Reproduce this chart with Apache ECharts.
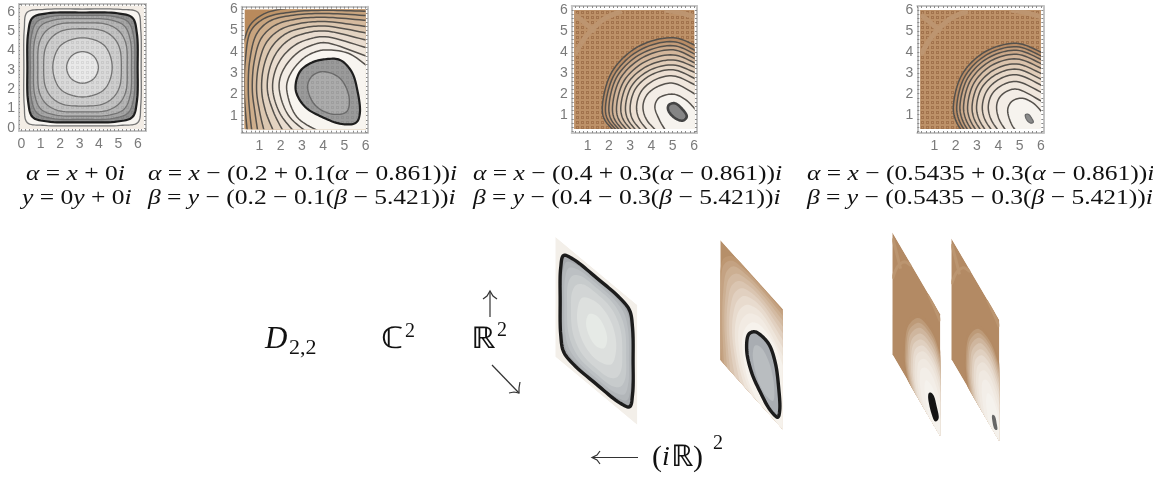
<!DOCTYPE html>
<html><head><meta charset="utf-8"><style>html,body{margin:0;padding:0;background:#fff}#c{width:1153px;height:479px}</style>
<script src="https://cdn.jsdelivr.net/npm/echarts@6/dist/echarts.min.js"></script></head><body><div id="c"></div>
<script>
// ---------- tick labels ----------
const ticksFrom0 = [0,1,2,3,4,5,6];
const ticksFrom1 = [1,2,3,4,5,6];
const minorTicks = [0,0.2,0.4,0.6,0.8,1,1.2,1.4,1.6,1.8,2,2.2,2.4,2.6,2.8,3,3.2,3.4,3.6,3.8,4,4.2,4.4,4.6,4.8,5,5.2,5.4,5.6,5.8,6,6.2,6.4];

// ---------- panel 1: alpha = x + 0i ----------
const p1Outer = [[6.17,3.13],[6.15,5.09],[6.0,5.98],[5.11,6.13],[3.15,6.15],[1.19,6.13],[.3,5.98],[.15,5.09],[.13,3.13],[.15,1.17],[.3,.28],[1.19,.13],[3.15,.11],[5.11,.13],[6.0,.28],[6.15,1.17]];
const p1Zero = [[5.99,3.13],[5.95,4.9],[5.72,5.7],[4.95,5.93],[3.15,5.97],[1.35,5.93],[.58,5.7],[.35,4.9],[.31,3.13],[.35,1.36],[.58,.56],[1.35,.33],[3.15,.29],[4.95,.33],[5.72,.56],[5.95,1.36]];
const p1C3 = [[5.84,3.13],[5.79,4.7],[5.5,5.48],[4.72,5.77],[3.15,5.82],[1.58,5.77],[.8,5.48],[.51,4.7],[.46,3.13],[.51,1.56],[.8,.78],[1.58,.49],[3.15,.44],[4.72,.49],[5.5,.78],[5.79,1.56]];
const p1C4 = [[5.67,3.13],[5.61,4.55],[5.3,5.28],[4.57,5.59],[3.15,5.65],[1.73,5.59],[1,5.28],[.69,4.55],[.63,3.13],[.69,1.71],[1,.98],[1.73,.67],[3.15,.61],[4.57,.67],[5.3,.98],[5.61,1.71]];
const p1C5 = [[5.45,3.13],[5.38,4.38],[5.03,5.01],[4.4,5.36],[3.15,5.43],[1.9,5.36],[1.27,5.01],[.92,4.38],[.85,3.13],[.92,1.88],[1.27,1.25],[1.9,.9],[3.15,.83],[4.4,.9],[5.03,1.25],[5.38,1.88]];
const p1C6 = [[5.15,3.13],[5.06,4.13],[4.72,4.7],[4.15,5.04],[3.15,5.13],[2.15,5.04],[1.58,4.7],[1.24,4.13],[1.15,3.13],[1.24,2.13],[1.58,1.56],[2.15,1.22],[3.15,1.13],[4.15,1.22],[4.72,1.56],[5.06,2.13]];
const p1C7 = [[4.68,3.13],[4.28,4.26],[3.15,4.66],[2.02,4.26],[1.62,3.13],[2.02,2.0],[3.15,1.6],[4.28,2.0]];
const p1C8 = [[3.97,3.13],[3.73,3.71],[3.15,3.95],[2.57,3.71],[2.33,3.13],[2.57,2.55],[3.15,2.31],[3.73,2.55]];

// ---------- panel 2: shift 0.2 / 0.1 ----------
const p2C10 = [[.1,3.9],[.3,4.6],[.6,5.3],[1.3,5.82],[2.6,6.1]];
const p2C9 = [[.45,.1],[.36,1.03],[.29,2.21],[.34,3.6],[.61,5.0],[1.3,5.6],[2.52,5.87],[4.09,5.95],[6.13,5.9]];
const p2C8 = [[.67,.1],[.56,1.03],[.48,2.21],[.55,3.6],[.88,4.85],[1.5,5.45],[2.6,5.72],[4.09,5.8],[6.13,5.7]];
const p2C7 = [[.95,.1],[.8,1.11],[.67,2.21],[.76,3.55],[1.1,4.65],[1.75,5.25],[2.8,5.55],[4.09,5.62],[6.13,5.47]];
const p2C6 = [[1.27,.1],[1.03,1.11],[.87,2.21],[.98,3.45],[1.34,4.45],[2.0,5.05],[3.0,5.35],[4.09,5.42],[6.13,5.18]];
const p2C5 = [[1.74,.1],[1.3,1.19],[1.11,2.21],[1.22,3.35],[1.6,4.25],[2.25,4.85],[3.1,5.13],[4.09,5.21],[6.13,4.87]];
const p2C4 = [[2.21,.1],[1.66,1.19],[1.38,2.21],[1.48,3.2],[1.85,4.02],[2.45,4.6],[3.2,4.88],[4.09,4.98],[6.13,4.53]];
const p2C3 = [[2.76,.1],[1.97,1.11],[1.63,2.21],[1.73,3.05],[2.08,3.75],[2.7,4.33],[3.35,4.6],[4.09,4.71],[6.13,4.17]];
const p2C2 = [[3.38,.1],[2.36,1.03],[1.94,2.21],[2.0,2.85],[2.35,3.5],[2.9,4.03],[3.5,4.32],[4.09,4.43],[6.13,3.77]];
const p2C1 = [[4.09,.1],[2.76,.95],[2.29,2.21],[2.35,2.7],[2.65,3.25],[3.15,3.75],[3.65,4.0],[4.09,4.09],[5.19,3.93],[6.13,3.3]];
const p2Zero = [[4.09,3.65],[4.79,3.62],[5.34,3.07],[5.61,2.21],[5.73,1.11],[5.55,.67],[4.87,.61],[3.93,.95],[3.15,1.42],[2.71,2.21],[2.91,3.07],[3.46,3.49]];
const p2Inner = [[4.01,3.07],[4.79,2.76],[5.22,1.89],[5.11,1.19],[4.4,1.08],[3.62,1.5],[3.27,2.36],[3.49,2.87]];

// ---------- panel 3: shift 0.4 / 0.3 ----------
const p3C1 = [[2.35,.1],[1.78,.8],[1.69,1.4],[2.14,3.04],[3.35,4.23],[5.02,4.67],[6.2,4.25]];
const p3C2 = [[2.5,.1],[1.93,.8],[1.84,1.4],[2.27,2.94],[3.43,4.07],[5.02,4.48],[6.2,4.0]];
const p3C3 = [[2.65,.1],[2.09,.8],[2.0,1.4],[2.4,2.85],[3.51,3.9],[5.02,4.29],[6.2,3.82]];
const p3C4 = [[2.8,.1],[2.26,.8],[2.17,1.4],[2.55,2.75],[3.6,3.73],[5.02,4.09],[6.2,3.6]];
const p3C5 = [[3.0,.1],[2.45,.8],[2.36,1.4],[2.72,2.63],[3.69,3.52],[5.02,3.85],[6.2,3.4]];
const p3C6 = [[3.2,.1],[2.66,.8],[2.56,1.4],[2.89,2.51],[3.79,3.31],[5.02,3.61],[6.2,3.2]];
const p3C7 = [[3.4,.1],[2.88,.8],[2.78,1.4],[3.08,2.39],[3.9,3.11],[5.02,3.37],[6.2,2.95]];
const p3C8 = [[3.65,.1],[3.1,.8],[3.0,1.4],[3.27,2.27],[4.01,2.91],[5.02,3.14],[6.2,2.65]];
const p3C9 = [[3.95,.1],[3.42,.8],[3.3,1.4],[3.53,2.13],[4.16,2.66],[5.02,2.85],[6.2,2.35]];
const p3C10 = [[4.35,.1],[3.75,.8],[3.6,1.4],[3.79,1.95],[4.31,2.35],[5.02,2.5],[6.2,1.9]];
const p3C11 = [[4.75,.1],[4.35,.8],[4.16,1.4],[4.35,1.8],[5.02,1.98],[5.6,1.72],[6.2,1.1]];
const p3Zero = [[4.83,1.48],[5.09,1.55],[5.4,1.32],[5.66,.92],[5.49,.72],[5.17,.8],[4.86,1.08],[4.77,1.32]];

// ---------- panel 4: shift 0.5435 / 0.3 ----------
const p4C1 = [[2.35,.1],[1.98,.8],[1.89,1.4],[2.29,2.9],[3.38,4.0],[4.86,4.4],[6.2,3.9]];
const p4C2 = [[2.5,.1],[2.14,.8],[2.05,1.4],[2.43,2.82],[3.46,3.86],[4.86,4.24],[6.2,3.72]];
const p4C3 = [[2.66,.1],[2.3,.8],[2.2,1.4],[2.56,2.74],[3.53,3.71],[4.86,4.07],[6.2,3.55]];
const p4C4 = [[2.85,.1],[2.47,.8],[2.37,1.4],[2.7,2.64],[3.62,3.55],[4.86,3.88],[6.2,3.35]];
const p4C5 = [[3.05,.1],[2.66,.8],[2.56,1.4],[2.87,2.53],[3.71,3.36],[4.86,3.66],[6.2,3.13]];
const p4C6 = [[3.28,.1],[2.87,.8],[2.77,1.4],[3.05,2.41],[3.82,3.15],[4.86,3.42],[6.2,2.88]];
const p4C7 = [[3.5,.1],[3.09,.8],[2.98,1.4],[3.23,2.29],[3.92,2.93],[4.86,3.17],[6.2,2.6]];
const p4C8 = [[3.8,.1],[3.36,.8],[3.25,1.4],[3.47,2.15],[4.06,2.7],[4.86,2.9],[6.2,2.32]];
const p4C9 = [[4.1,.1],[3.65,.8],[3.53,1.4],[3.71,1.99],[4.2,2.42],[4.86,2.58],[6.2,1.98]];
const p4C10 = [[4.45,.1],[4.03,.8],[3.92,1.4],[4.05,1.81],[4.39,2.11],[4.86,2.22],[6.2,1.55]];
const p4C11 = [[4.94,.1],[4.63,.53],[4.44,1.24],[4.63,1.63],[5.09,1.79],[5.64,1.55],[6.2,.95]];
const p4Zero = [[5.27,1.0],[5.41,1.02],[5.56,.84],[5.64,.64],[5.52,.6],[5.33,.76]];

// ---------- pale ridges of panels 3 and 4 ----------
const p3RidgeA = [[.41,5.75],[.8,5.43],[1.34,4.96]];
const p3RidgeB = [[.38,3.85],[.8,4.56],[1.19,5.04],[1.81,5.59],[2.6,5.94]];
const p3RidgeC = [[4.63,5.99],[5.33,5.86],[6.03,5.67]];
const p4RidgeA = [[.38,5.75],[.77,5.43],[1.31,4.96]];
const p4RidgeB = [[.35,3.85],[.77,4.56],[1.16,5.04],[1.78,5.59],[2.57,5.94]];
const p4RidgeC = [[4.6,5.99],[5.3,5.86],[6.0,5.67]];

// ---------- text ----------
const eqLine1 = ['{i|α} = {i|x} + 0{i|i}','{i|α} = {i|x} − (0.2 + 0.1({i|α} − 0.861)){i|i}','{i|α} = {i|x} − (0.4 + 0.3({i|α} − 0.861)){i|i}','{i|α} = {i|x} − (0.5435 + 0.3({i|α} − 0.861)){i|i}'];
const eqLine2 = ['{i|y} = 0{i|y} + 0{i|i}','{i|β} = {i|y} − (0.2 − 0.1({i|β} − 5.421)){i|i}','{i|β} = {i|y} − (0.4 − 0.3({i|β} − 5.421)){i|i}','{i|β} = {i|y} − (0.5435 − 0.3({i|β} − 5.421)){i|i}'];

// ---------- layout ----------
const BROWN=['#bf9569','#c8a47e','#ceae8c','#d5ba9e','#dcc7b0','#e3d3c1','#e9dccf','#efe6dc','#f3ede6','#f8f5f0'];
const BROWNLOW=['#bd9772','#c4a282','#ccaf92','#d3baa2','#dac5b1','#e1d0c0','#e8dbce','#eee5db','#f2ebe3','#f6f2ec'];
const RAMP=['#b98c65','#c39c79','#cba98a','#d3b69b','#dbc3ac','#e1cdb9','#e7d8c8','#ecdfd2','#f0e7dd','#f3ede6','#f6f3ee'];
const LOW=['#b38a64','#bd9a78','#c6a88b','#cfb69e','#d8c4b0','#e0d0c0','#e7dbcf','#ece3d9','#f0e9e1','#f3eee8','#f5f2ed'];

const tile=(col)=>{const c=document.createElement('canvas');c.width=5;c.height=5;const g=c.getContext('2d');g.fillStyle=col;g.fillRect(1,1,3,1);g.fillRect(1,3,3,1);g.fillRect(1,2,1,1);g.fillRect(3,2,1,1);return {image:c,repeat:'repeat'};};
const brownTile=tile('rgba(110,60,25,.34)'),grayTile=tile('rgba(0,0,0,.07)');

// centripetal Catmull-Rom drawing of a curve through the read points, in pixel space
function curve(P,closed){
  const n=P.length,out=[];
  const at=i=>closed?P[(i+n)%n]:(i<0?[2*P[0][0]-P[1][0],2*P[0][1]-P[1][1]]:i>=n?[2*P[n-1][0]-P[n-2][0],2*P[n-1][1]-P[n-2][1]]:P[i]);
  const segs=closed?n:n-1;
  for(let s=0;s<segs;s++){
    const p0=at(s-1),p1=at(s),p2=at(s+1),p3=at(s+2);
    const d=(a,b)=>Math.max(1e-3,Math.pow(Math.hypot(a[0]-b[0],a[1]-b[1]),.5));
    const t1=d(p0,p1),t2=t1+d(p1,p2),t3=t2+d(p2,p3);
    for(let j=0;j<10;j++){
      const t=t1+(t2-t1)*j/10,q=[0,1].map(c=>{
        const A1=(t1-t)/t1*p0[c]+t/t1*p1[c],A2=(t2-t)/(t2-t1)*p1[c]+(t-t1)/(t2-t1)*p2[c],A3=(t3-t)/(t3-t2)*p2[c]+(t-t2)/(t3-t2)*p3[c];
        const B1=(t2-t)/t2*A1+t/t2*A2,B2=(t3-t)/(t3-t1)*A2+(t-t1)/(t3-t1)*A3;
        return (t2-t)/(t2-t1)*B1+(t-t1)/(t2-t1)*B2;});
      out.push(q);
    }
  }
  if(!closed)out.push(P[n-1]);
  return out;
}

const closeBR=c=>[[7,c[c.length-1][1]],[7,-1],[c[0][0],-1]];
const band=(pts,fill,o={})=>Object.assign({pts,fill,closed:false,close:closeBR(pts),stroke:'#55514c',lw:1.5},o);
const loop=(pts,fill,o={})=>Object.assign({pts,fill,closed:true,close:[],stroke:'#6a6a6a',lw:1.4},o);
const ridge=(pts,col,lw)=>({pts,ridge:true,stroke:col,lw});

const p1Gray=['#f8f5f1','#8f8f8f','#a5a5a5','#b5b5b5','#c2c2c2','#cdcdcd','#d9d9d9','#e9e9e9'];
const p5Gray=['#f3efe9','#a6a9ad','#b2b6b9','#bcc0c3','#c7cbcc','#d2d5d5','#dde0de','#e6eae6'];
const p1All=[p1Outer,p1Zero,p1C3,p1C4,p1C5,p1C6,p1C7,p1C8];
const p2All=[p2C10,p2C9,p2C8,p2C7,p2C6,p2C5,p2C4,p2C3,p2C2,p2C1];
const p3All=[p3C1,p3C2,p3C3,p3C4,p3C5,p3C6,p3C7,p3C8,p3C9,p3C10,p3C11];
const p4All=[p4C1,p4C2,p4C3,p4C4,p4C5,p4C6,p4C7,p4C8,p4C9,p4C10,p4C11];
const closeC10=[[7,7],[7,-1],[-1,-1],[-1,3.9]];

function items1(low){const f=low?p5Gray:p1Gray;return p1All.map((c,i)=>loop(c,f[i],low?
  {stroke:i==1?'#1c1c1c':null,lw:3.4,tex:null}:{stroke:i==1?'#1e1e1e':'#737373',lw:i==1?2.2:1.3,tex:i>0?grayTile:null}));}
function items2(low){const r=p2All.map((c,i)=>band(c,(low?BROWNLOW:BROWN)[i],low?{stroke:null}:{}));r[0].close=closeC10;
  r.push(loop(p2Zero,low?'#a9adb2':'#9a9a9a',low?{stroke:'#1c1c1c',lw:3.4}:{stroke:'#1e1e1e',lw:2.2,tex:grayTile}));
  r.push(loop(p2Inner,low?'#b9bdc0':'#ababab',low?{stroke:null}:{stroke:'#6a6a6a',lw:1.4,tex:grayTile}));return r;}
function items34(all,zero,rs,low,zf,zs,zlw){const r=[];
  const rc=low?'#bb9570':'#bd9570';
  r.push(ridge(rs[0],rc,low?3:5),ridge(rs[1],rc,low?3:5),ridge(rs[2],rc,low?3:5));
  all.forEach((c,i)=>r.push(band(c,(low?LOW:RAMP)[i],low?{stroke:null}:{})));
  r.push(loop(zero,zf,{stroke:zs,lw:zlw}));return r;}

const panels=[
 {rect:[19,4,127,127],x:[-.12,6.42],y:[-.16,6.41],b:[-.07,6.32,-.07,6.33],ticks:ticksFrom0,base:'#f3ede6',items:items1(false)},
 {rect:[241.7,6.7,126,126],x:[.17,6.1],y:[.2,6.12],b:[.3,6,.36,6],ticks:ticksFrom1,base:'#b98a5c',items:items2(false)},
 {rect:[571.7,6,125.3,127],x:[.25,6.14],y:[.13,6.18],b:[.36,6.03,.32,5.99],ticks:ticksFrom1,base:'#bd9168',tex:brownTile,items:items34(p3All,p3Zero,[p3RidgeA,p3RidgeB,p3RidgeC],false,'#858585','#444',2.6)},
 {rect:[917.3,6,126,127],x:[.2,6.11],y:[.13,6.18],b:[.33,6,.32,5.99],ticks:ticksFrom1,base:'#bd9168',tex:brownTile,items:items34(p4All,p4Zero,[p4RidgeA,p4RidgeB,p4RidgeC],false,'#8a8a8a','#666',1.2)},
 {shear:[555.3,236.7,82,120,68.3],b:[-.07,6.32,-.07,6.33],base:'#f3efe9',items:items1(true)},
 {shear:[720.3,240,62.4,120,69.3],b:[.3,6,.36,6],base:'#b68f69',items:items2(true)},
 {shear:[892.3,232.3,48,122,82],b:[.36,6.03,.32,5.99],base:'#b38a64',items:items34(p3All,p3Zero,[p3RidgeA,p3RidgeB,p3RidgeC],true,'#141414','#141414',3)},
 {shear:[951.3,238.3,48,121,81.7],b:[.33,6,.32,5.99],base:'#b38a64',items:items34(p4All,p4Zero,[p4RidgeA,p4RidgeB,p4RidgeC],true,'#555','#666',2.2)}
];

const grid=[],xAxis=[],yAxis=[],series=[];
const axisBase={type:'value',silent:true,splitLine:{show:false},axisPointer:{show:false}};
panels.forEach((P,n)=>{
  const [bx0,bx1,by0,by1]=P.b;
  let k=0,ax,ay;
  if(P.shear){
    const [l,t,w,h,dy]=P.shear;
    k=dy/((bx1-bx0)*(h/(by1-by0)));
    ax=[bx0,bx1];ay=[by0-k*(bx1-bx0),by1];
    grid.push({left:l,top:t,width:w,height:h+dy});
    P.xi=xAxis.length;P.yi=yAxis.length;
    xAxis.push(Object.assign({},axisBase,{gridIndex:n,min:ax[0],max:ax[1],show:false}));
    yAxis.push(Object.assign({},axisBase,{gridIndex:n,min:ay[0],max:ay[1],show:false}));
  }else{
    const [l,t,w,h]=P.rect;
    grid.push({left:l,top:t,width:w,height:h,show:false});
    const line={show:true,onZero:false,lineStyle:{color:'#c4c4c4',width:2}};
    const tk=(v)=>({show:true,inside:true,length:2,lineStyle:{color:'#8a8a8a',width:1},customValues:v});
    const inX=minorTicks.filter(v=>v>=P.x[0]&&v<=P.x[1]),inY=minorTicks.filter(v=>v>=P.y[0]&&v<=P.y[1]);
    const lab={color:'#7a7a7a',fontFamily:'Liberation Sans',fontSize:14,customValues:P.ticks};
    P.xi=xAxis.length;P.yi=yAxis.length;
    xAxis.push(Object.assign({},axisBase,{gridIndex:n,min:P.x[0],max:P.x[1],position:'bottom',axisLine:line,axisTick:tk(inX),axisLabel:Object.assign({margin:6},lab)}));
    xAxis.push(Object.assign({},axisBase,{gridIndex:n,min:P.x[0],max:P.x[1],position:'top',axisLine:line,axisTick:tk(inX),axisLabel:{show:false}}));
    yAxis.push(Object.assign({},axisBase,{gridIndex:n,min:P.y[0],max:P.y[1],position:'left',axisLine:line,axisTick:tk(inY),axisLabel:Object.assign({margin:4},lab)}));
    yAxis.push(Object.assign({},axisBase,{gridIndex:n,min:P.y[0],max:P.y[1],position:'right',axisLine:line,axisTick:tk(inY),axisLabel:{show:false}}));
  }
  const baseRect=[[bx0,by0],[bx1,by0],[bx1,by1],[bx0,by1]];
  const list=[{pts:baseRect,fill:P.base,tex:P.tex,closed:true,close:[],stroke:null,lw:0,sharp:true}].concat(P.items);
  series.push({type:'custom',coordinateSystem:'cartesian2d',xAxisIndex:P.xi,yAxisIndex:P.yi,silent:true,animation:false,z:2,
    data:list.map(it=>it.pts[0]),
    encode:{x:0,y:1},
    renderItem(params,api){
      const it=list[params.dataIndex];
      const px=p=>api.coord(P.shear?[p[0],p[1]-k*(p[0]-bx0)]:p);
      const raw=it.pts.map(px);
      const line=it.sharp?raw:curve(raw,!!it.closed);
      const children=[];
      if(!it.ridge){
        const poly=line.concat((it.close||[]).map(px));
        children.push({type:'polygon',shape:{points:poly},style:{fill:it.fill,stroke:null},silent:true});
        if(it.tex)children.push({type:'polygon',shape:{points:poly},style:{fill:it.tex,stroke:null},silent:true});
      }
      if(it.stroke){
        children.push({type:it.closed?'polygon':'polyline',shape:{points:line},style:{fill:'none',stroke:it.stroke,lineWidth:it.lw},silent:true});
      }
      return {type:'group',children,clipPath:{type:'polygon',shape:{points:baseRect.map(px)}}};
    }});
});

// ---------- text and arrows ----------
const MATH='"Liberation Serif"';
const eqCols=[26,148,473,807];
const eqCols2=[22,148,473,807];
const graphic=[];
const T=(text,x,y,size,sx=1)=>graphic.push({type:'text',x,y,scaleX:sx,silent:true,style:{text,fontFamily:MATH,fontSize:size,fill:'#111',verticalAlign:'middle',align:'left',rich:{i:{fontStyle:'italic',fontFamily:MATH,fontSize:size,color:'#111'}}}});
eqLine1.forEach((s,i)=>T(s,eqCols[i],174,22,1.16));
eqLine2.forEach((s,i)=>T(s,eqCols2[i],198,22,1.16));
T('{i|D}',265,340,31);
T('2,2',289,349,20,1.1);
T('ℂ',381,340,30,1.2);
T('2',405,332,20);
T('ℝ',471,340,30,1.15);
T('2',497,331,20);
T('(',652,458,30);
T('{i|i}',662,458,28);
T('ℝ',671,458,30,1.05);
T(')',693,458,30);
T('2',713,444,20);

const arrow=(pts)=>graphic.push({type:'polyline',silent:true,shape:{points:pts},style:{stroke:'#333',lineWidth:1.2,fill:null}});
arrow([[490,317],[490,292]]);arrow([[483,299],[487,296],[490,291],[493,296],[497,299]]);
arrow([[492,365],[519,393]]);arrow([[509,393],[514,392],[519,393],[519,388],[520,382]]);
arrow([[638,457.5],[593,457.5]]);arrow([[600,451],[597,455],[592,457.5],[597,460],[600,464]]);

const chart=echarts.init(document.getElementById('c'),null,{renderer:'canvas'});
chart.setOption({animation:false,backgroundColor:'#fff',grid,xAxis,yAxis,series,graphic});
</script></body></html>
